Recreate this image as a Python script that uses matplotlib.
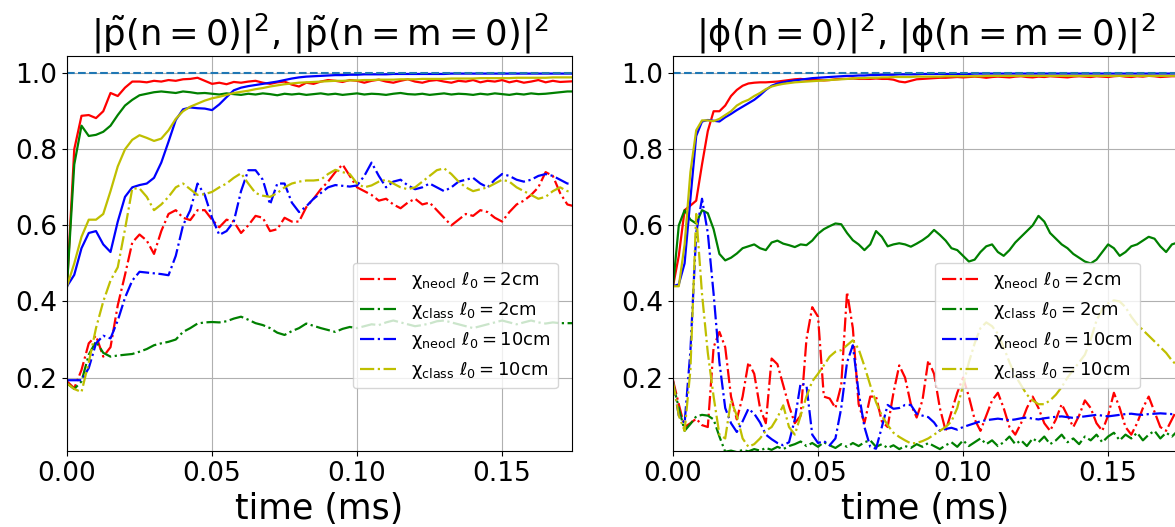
import numpy as np
import matplotlib
matplotlib.use("Agg")
import matplotlib.pyplot as plt

plt.rcParams['mathtext.default'] = 'regular'

# sample times (ms)
t_p = 0.0025 * np.arange(71)
t_phi = 0.002 * np.arange(88)

# ------------------------------------------------------------------ #
# |p~|^2 : solid = n=0, dash-dot = n=m=0
# ------------------------------------------------------------------ #
p_neo2_n = [0.44, 0.80, 0.888, 0.89, 0.882, 0.90, 0.948, 0.94, 0.962, 0.978,
            0.978, 0.976, 0.98, 0.978, 0.982, 0.98, 0.984, 0.985, 0.988, 0.98,
            0.972, 0.975, 0.971, 0.977, 0.975, 0.978, 0.98, 0.975, 0.972, 0.976,
            0.978, 0.97, 0.965, 0.975, 0.972, 0.978, 0.982, 0.98, 0.977, 0.982,
            0.98, 0.975, 0.98, 0.983, 0.978, 0.975, 0.98, 0.984, 0.978, 0.975,
            0.98, 0.982, 0.978, 0.975, 0.98, 0.978, 0.982, 0.976, 0.98, 0.978,
            0.982, 0.976, 0.98, 0.975, 0.978, 0.982, 0.976, 0.98, 0.977, 0.978, 0.979]
p_cls2_n = [0.44, 0.76, 0.862, 0.835, 0.838, 0.846, 0.862, 0.89, 0.915, 0.93,
            0.942, 0.946, 0.95, 0.952, 0.95, 0.948, 0.952, 0.95, 0.947, 0.948,
            0.946, 0.944, 0.947, 0.945, 0.943, 0.946, 0.944, 0.947, 0.945, 0.942,
            0.946, 0.944, 0.946, 0.943, 0.945, 0.947, 0.944, 0.946, 0.943, 0.945,
            0.947, 0.944, 0.946, 0.945, 0.943, 0.946, 0.948, 0.945, 0.944, 0.946,
            0.943, 0.945, 0.947, 0.944, 0.946, 0.945, 0.943, 0.946, 0.944, 0.947,
            0.945, 0.943, 0.946, 0.944, 0.947, 0.945, 0.946, 0.948, 0.95, 0.952, 0.952]
p_neo10_n = [0.44, 0.47, 0.54, 0.58, 0.585, 0.55, 0.53, 0.61, 0.675, 0.70,
             0.706, 0.71, 0.725, 0.765, 0.82, 0.877, 0.905, 0.91, 0.908, 0.907,
             0.903, 0.918, 0.937, 0.955, 0.962, 0.966, 0.969, 0.972, 0.975, 0.978,
             0.982, 0.986, 0.989, 0.991, 0.992, 0.993, 0.994, 0.995, 0.995, 0.996,
             0.996, 0.997, 0.997, 0.997, 0.997, 0.998, 0.998, 0.998, 0.998, 0.998,
             0.998, 0.998, 0.998, 0.999, 0.999, 0.999, 0.999, 0.999, 0.999, 0.999,
             0.999, 0.999, 0.999, 0.999, 0.999, 0.999, 0.999, 0.999, 0.999, 0.999, 0.999]
p_cls10_n = [0.44, 0.50, 0.57, 0.615, 0.615, 0.63, 0.69, 0.755, 0.80, 0.825,
             0.837, 0.83, 0.822, 0.828, 0.85, 0.88, 0.90, 0.912, 0.92, 0.928,
             0.934, 0.938, 0.943, 0.948, 0.951, 0.954, 0.958, 0.961, 0.965, 0.968,
             0.971, 0.973, 0.975, 0.976, 0.977, 0.978, 0.979, 0.98, 0.98, 0.981,
             0.981, 0.982, 0.982, 0.983, 0.983, 0.983, 0.984, 0.984, 0.984, 0.985,
             0.985, 0.985, 0.985, 0.986, 0.986, 0.986, 0.986, 0.987, 0.987, 0.987,
             0.987, 0.987, 0.988, 0.988, 0.988, 0.988, 0.988, 0.989, 0.989, 0.989, 0.989]

p_neo2_nm = [0.19, 0.172, 0.22, 0.29, 0.31, 0.255, 0.28, 0.39, 0.47, 0.555,
             0.576, 0.56, 0.525, 0.585, 0.63, 0.64, 0.62, 0.614, 0.64, 0.64,
             0.615, 0.595, 0.615, 0.61, 0.58, 0.60, 0.625, 0.62, 0.585, 0.59,
             0.62, 0.61, 0.61, 0.648, 0.67, 0.695, 0.715, 0.74, 0.76, 0.73,
             0.70, 0.69, 0.68, 0.665, 0.67, 0.655, 0.645, 0.66, 0.67, 0.655,
             0.66, 0.64, 0.62, 0.60, 0.615, 0.63, 0.625, 0.64, 0.635, 0.62,
             0.61, 0.635, 0.655, 0.665, 0.68, 0.70, 0.74, 0.73, 0.685, 0.655, 0.65]
p_cls2_nm = [0.185, 0.17, 0.19, 0.26, 0.295, 0.265, 0.255, 0.258, 0.26, 0.262,
             0.268, 0.275, 0.285, 0.29, 0.294, 0.30, 0.32, 0.33, 0.342, 0.345,
             0.346, 0.345, 0.348, 0.355, 0.36, 0.352, 0.343, 0.338, 0.33, 0.318,
             0.312, 0.322, 0.33, 0.342, 0.336, 0.33, 0.325, 0.32, 0.328, 0.333,
             0.33, 0.335, 0.34, 0.338, 0.345, 0.35, 0.345, 0.34, 0.335, 0.338,
             0.342, 0.348, 0.35, 0.345, 0.34, 0.335, 0.33, 0.335, 0.34, 0.345,
             0.35, 0.345, 0.34, 0.345, 0.35, 0.345, 0.342, 0.345, 0.343, 0.343, 0.343]
p_neo10_nm = [0.193, 0.193, 0.193, 0.225, 0.29, 0.31, 0.303, 0.35, 0.41, 0.455,
              0.478, 0.476, 0.474, 0.472, 0.469, 0.52, 0.60, 0.64, 0.71, 0.68,
              0.62, 0.575, 0.585, 0.61, 0.69, 0.745, 0.745, 0.72, 0.655, 0.71,
              0.71, 0.66, 0.635, 0.65, 0.67, 0.685, 0.70, 0.706, 0.704, 0.702,
              0.705, 0.73, 0.765, 0.73, 0.70, 0.715, 0.72, 0.705, 0.695, 0.70,
              0.71, 0.70, 0.69, 0.70, 0.715, 0.72, 0.725, 0.71, 0.70, 0.72,
              0.735, 0.73, 0.72, 0.715, 0.72, 0.73, 0.735, 0.73, 0.72, 0.71, 0.71]
p_cls10_nm = [0.185, 0.17, 0.162, 0.24, 0.33, 0.40, 0.455, 0.49, 0.59, 0.697,
              0.697, 0.675, 0.64, 0.655, 0.675, 0.70, 0.71, 0.695, 0.68, 0.682,
              0.688, 0.70, 0.71, 0.725, 0.737, 0.71, 0.685, 0.678, 0.675, 0.685,
              0.70, 0.71, 0.715, 0.718, 0.718, 0.72, 0.735, 0.746, 0.74, 0.735,
              0.71, 0.70, 0.705, 0.715, 0.72, 0.71, 0.70, 0.695, 0.70, 0.715,
              0.73, 0.745, 0.75, 0.735, 0.715, 0.70, 0.69, 0.695, 0.70, 0.71,
              0.72, 0.715, 0.70, 0.69, 0.68, 0.67, 0.675, 0.69, 0.70, 0.69, 0.69]

# ------------------------------------------------------------------ #
# |phi|^2 : solid = n=0, dash-dot = n=m=0
# ------------------------------------------------------------------ #
phi_neo2_n = [0.44, 0.52, 0.64, 0.652, 0.665, 0.76, 0.848, 0.90, 0.90, 0.915,
              0.94, 0.956, 0.967, 0.973, 0.975, 0.976, 0.976, 0.977, 0.978, 0.98,
              0.982, 0.984, 0.985, 0.983, 0.982, 0.982, 0.981, 0.982, 0.984, 0.985,
              0.985, 0.986, 0.985, 0.985, 0.985, 0.986, 0.985, 0.985, 0.983, 0.978,
              0.976, 0.98, 0.984, 0.985, 0.986, 0.987, 0.988, 0.988, 0.989, 0.99,
              0.989, 0.99, 0.991, 0.99, 0.988, 0.99, 0.991, 0.99, 0.989, 0.991,
              0.992, 0.99, 0.989, 0.991, 0.99, 0.992, 0.991, 0.99, 0.989, 0.991,
              0.992, 0.991, 0.99, 0.992, 0.991, 0.99, 0.992, 0.993, 0.991, 0.99,
              0.992, 0.991, 0.993, 0.992, 0.99, 0.991, 0.992, 0.992]
phi_cls2_n = [0.44, 0.60, 0.64, 0.615, 0.605, 0.64, 0.632, 0.59, 0.525, 0.508,
              0.515, 0.526, 0.54, 0.545, 0.55, 0.54, 0.535, 0.555, 0.56, 0.552,
              0.548, 0.543, 0.55, 0.548, 0.56, 0.578, 0.59, 0.598, 0.605, 0.603,
              0.58, 0.561, 0.55, 0.535, 0.55, 0.585, 0.57, 0.545, 0.55, 0.553,
              0.55, 0.544, 0.552, 0.561, 0.572, 0.588, 0.575, 0.56, 0.54, 0.535,
              0.52, 0.505, 0.51, 0.53, 0.545, 0.55, 0.53, 0.52, 0.535, 0.555,
              0.57, 0.585, 0.60, 0.625, 0.61, 0.58, 0.565, 0.55, 0.54, 0.525,
              0.515, 0.505, 0.50, 0.51, 0.53, 0.55, 0.54, 0.52, 0.53, 0.545,
              0.55, 0.56, 0.57, 0.565, 0.545, 0.53, 0.55, 0.555]
phi_neo10_n = [0.44, 0.445, 0.50, 0.67, 0.835, 0.873, 0.877, 0.875, 0.873, 0.884,
               0.893, 0.903, 0.912, 0.921, 0.93, 0.942, 0.956, 0.967, 0.973, 0.976,
               0.979, 0.981, 0.983, 0.985, 0.987, 0.988, 0.989, 0.99, 0.991, 0.992,
               0.993, 0.993, 0.994, 0.994, 0.995, 0.995, 0.996, 0.996, 0.996, 0.997,
               0.997, 0.997, 0.997, 0.998, 0.998, 0.998, 0.998, 0.998, 0.998, 0.998,
               0.998, 0.998, 0.999, 0.999, 0.999, 0.999, 0.999, 0.999, 0.999, 0.999,
               0.999, 0.999, 0.999, 0.999, 0.999, 0.999, 0.999, 0.999, 0.999, 0.999,
               0.999, 0.999, 0.999, 0.999, 0.999, 0.999, 0.999, 0.999, 0.999, 0.999,
               0.999, 0.999, 0.999, 0.999, 0.999, 0.999, 0.999, 0.999]
phi_cls10_n = [0.44, 0.44, 0.55, 0.74, 0.85, 0.876, 0.876, 0.874, 0.88, 0.89,
               0.90, 0.915, 0.924, 0.93, 0.94, 0.948, 0.958, 0.965, 0.969, 0.972,
               0.974, 0.976, 0.977, 0.978, 0.979, 0.98, 0.981, 0.982, 0.983, 0.984,
               0.985, 0.986, 0.987, 0.987, 0.988, 0.988, 0.989, 0.989, 0.99, 0.99,
               0.99, 0.99, 0.991, 0.991, 0.991, 0.991, 0.991, 0.992, 0.992, 0.992,
               0.992, 0.992, 0.992, 0.992, 0.993, 0.993, 0.993, 0.993, 0.993, 0.993,
               0.993, 0.993, 0.993, 0.993, 0.993, 0.993, 0.993, 0.993, 0.993, 0.993,
               0.993, 0.993, 0.993, 0.993, 0.993, 0.993, 0.993, 0.993, 0.993, 0.993,
               0.993, 0.993, 0.993, 0.993, 0.993, 0.993, 0.993, 0.993]

phi_neo2_nm = [0.193, 0.13, 0.07, 0.08, 0.092, 0.075, 0.07, 0.28, 0.32, 0.28,
               0.15, 0.09, 0.15, 0.24, 0.21, 0.12, 0.08, 0.25, 0.235, 0.18,
               0.125, 0.08, 0.10, 0.30, 0.385, 0.36, 0.15, 0.145, 0.12, 0.18,
               0.425, 0.33, 0.13, 0.08, 0.15, 0.15, 0.085, 0.07, 0.16, 0.232,
               0.20, 0.13, 0.095, 0.14, 0.245, 0.21, 0.12, 0.06, 0.11, 0.16,
               0.20, 0.15, 0.09, 0.06, 0.10, 0.14, 0.16, 0.12, 0.07, 0.05,
               0.08, 0.12, 0.15, 0.12, 0.08, 0.06, 0.09, 0.13, 0.10, 0.07,
               0.10, 0.14, 0.12, 0.08, 0.06, 0.10, 0.16, 0.12, 0.07, 0.05,
               0.08, 0.12, 0.15, 0.11, 0.07, 0.06, 0.09, 0.12]
phi_cls2_nm = [0.184, 0.12, 0.06, 0.078, 0.098, 0.102, 0.10, 0.09, 0.045, 0.005,
               0.008, 0.004, 0.01, 0.006, 0.012, 0.008, 0.015, 0.01, 0.018, 0.012,
               0.02, 0.025, 0.032, 0.02, 0.028, 0.018, 0.03, 0.022, 0.015, 0.025,
               0.018, 0.028, 0.02, 0.03, 0.035, 0.018, 0.025, 0.015, 0.022, 0.012,
               0.02, 0.015, 0.025, 0.018, 0.028, 0.02, 0.012, 0.022, 0.03, 0.018,
               0.035, 0.02, 0.03, 0.04, 0.025, 0.035, 0.02, 0.03, 0.045, 0.025,
               0.035, 0.02, 0.04, 0.03, 0.045, 0.025, 0.035, 0.05, 0.03, 0.04,
               0.025, 0.045, 0.035, 0.05, 0.03, 0.045, 0.055, 0.035, 0.05, 0.04,
               0.055, 0.035, 0.05, 0.06, 0.04, 0.055, 0.045, 0.06]
phi_neo10_nm = [0.19, 0.10, 0.08, 0.27, 0.58, 0.67, 0.58, 0.42, 0.24, 0.12,
                0.08, 0.057, 0.085, 0.118, 0.105, 0.082, 0.05, 0.038, 0.028, 0.022,
                0.03, 0.09, 0.185, 0.18, 0.05, 0.028, 0.033, 0.022, 0.04, 0.12,
                0.24, 0.285, 0.16, 0.07, 0.018, 0.013, 0.07, 0.128, 0.118, 0.12,
                0.128, 0.128, 0.105, 0.10, 0.096, 0.082, 0.06, 0.065, 0.068, 0.063,
                0.07, 0.075, 0.08, 0.085, 0.088, 0.09, 0.092, 0.09, 0.088, 0.09,
                0.093, 0.095, 0.092, 0.09, 0.093, 0.095, 0.097, 0.098, 0.096, 0.094,
                0.096, 0.098, 0.10, 0.102, 0.10, 0.098, 0.10, 0.102, 0.104, 0.105,
                0.103, 0.102, 0.104, 0.105, 0.106, 0.105, 0.104, 0.105]
phi_cls10_nm = [0.19, 0.10, 0.06, 0.22, 0.63, 0.42, 0.265, 0.15, 0.05, 0.04,
                0.14, 0.10, 0.04, 0.018, 0.025, 0.04, 0.06, 0.07, 0.095, 0.127,
                0.07, 0.05, 0.10, 0.15, 0.19, 0.21, 0.232, 0.255, 0.268, 0.272,
                0.285, 0.298, 0.275, 0.23, 0.18, 0.135, 0.10, 0.075, 0.055, 0.044,
                0.035, 0.027, 0.028, 0.033, 0.04, 0.05, 0.06, 0.07, 0.085, 0.12,
                0.18, 0.24, 0.29, 0.33, 0.345, 0.335, 0.315, 0.28, 0.24, 0.205,
                0.18, 0.155, 0.14, 0.13, 0.13, 0.14, 0.155, 0.175, 0.20, 0.22,
                0.24, 0.26, 0.30, 0.35, 0.38, 0.395, 0.403, 0.40, 0.385, 0.36,
                0.34, 0.325, 0.31, 0.295, 0.28, 0.265, 0.245, 0.23]

labels = [r'$\chi_{neocl}$ $\ell_0 = 2$cm', r'$\chi_{class}$ $\ell_0 = 2$cm',
          r'$\chi_{neocl}$ $\ell_0 = 10$cm', r'$\chi_{class}$ $\ell_0 = 10$cm']
colors = ['r', 'g', 'b', 'y']

panels = [
    (t_p, [p_neo2_n, p_cls2_n, p_neo10_n, p_cls10_n],
     [p_neo2_nm, p_cls2_nm, p_neo10_nm, p_cls10_nm],
     r'$|\tilde{p}(n=0)|^2$, $|\tilde{p}(n=m=0)|^2$', 67, 0.566),
    (t_phi, [phi_neo2_n, phi_cls2_n, phi_neo10_n, phi_cls10_n],
     [phi_neo2_nm, phi_cls2_nm, phi_neo10_nm, phi_cls10_nm],
     r'$|\phi(n=0)|^2$, $|\phi(n=m=0)|^2$', 673, 0.519),
]

W, H = 1175, 527
fig = plt.figure(figsize=(W / 100, H / 100), dpi=100)

for t, solid, dashdot, title, x0, leg_x in panels:
    ax = fig.add_axes([x0 / W, 1 - 451 / H, 505 / W, 395.3 / H])
    for ys, yd, c, lab in zip(solid, dashdot, colors, labels):
        ax.plot(t, ys, color=c, lw=1.6)
        ax.plot(t, yd, color=c, lw=1.6, ls='-.', label=lab)
    ax.axhline(1.0, ls='--', color='C0', lw=1.5)
    ax.set_xlim(0, 0.1741)
    ax.set_ylim(0.007, 1.046)
    ax.set_xticks([0.0, 0.05, 0.10, 0.15])
    ax.set_yticks([0.2, 0.4, 0.6, 0.8, 1.0])
    ax.tick_params(labelsize=19)
    ax.grid(True)
    ax.set_title(title, fontsize=25.5)
    ax.set_xlabel('time (ms)', fontsize=25)
    ax.legend(loc='upper left', bbox_to_anchor=(leg_x, 0.476), borderaxespad=0,
              fontsize=13)

fig.savefig('out.png', dpi=100)
